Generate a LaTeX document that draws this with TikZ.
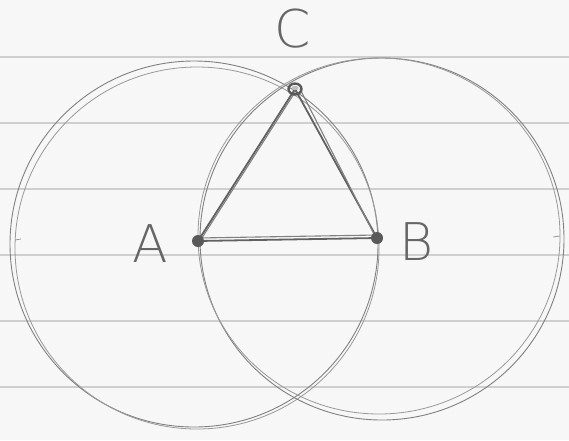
\documentclass[tikz,border=0pt]{standalone}
\usepackage{fontspec}
\newfontfamily\handfont{DejaVu Sans ExtraLight}
\begin{document}
\begin{tikzpicture}[x=1pt,y=-1pt,
  rule/.style={draw=black!19,line width=1.4pt},
  pencil/.style={draw=black!50,line width=0.9pt},
  pencillight/.style={draw=black!40,line width=0.8pt},
  edge/.style={draw=black!62,line width=1.8pt,line cap=round},
  edgelight/.style={draw=black!50,line width=1.1pt,line cap=round},
  pointdot/.style={fill=black!65},
  lab/.style={text=black!60,font=\handfont\fontsize{52}{52}\selectfont,inner sep=0pt}]
\fill[black!3] (0,0) rectangle (569,440);
\useasboundingbox (0,0) rectangle (569,440);
% ruled lines
\foreach \yy in {57,123,189,255,321,387}
  \draw[rule] (0,\yy) -- (569,\yy);
% points
\coordinate (A) at (198,241);
\coordinate (B) at (377,238);
\coordinate (C) at (295,89);
% left circle (two traces)
\draw[pencil] (194,244) ellipse [x radius=184pt, y radius=183pt];
\draw[pencillight] (197,248) ellipse [x radius=182pt, y radius=181pt];
% right circle (two traces)
\draw[pencil] (382,239) ellipse [x radius=182pt, y radius=181pt];
\draw[pencillight] (379,236) ellipse [x radius=181pt, y radius=178pt];
% small ticks at extremes
\draw[pencillight] (15,240) -- (21,239);
\draw[pencillight] (553,237) -- (560,236);
% triangle
\draw[edge] (A) -- (B);
\draw[edgelight] ([yshift=3pt]A) -- ([yshift=3pt]B);
\draw[edge] (A) -- (C);
\draw[edgelight] ([xshift=2pt]A) -- ([xshift=2pt]C);
\draw[edge] (C) -- (B);
\draw[edgelight] ([xshift=5pt]C) -- ([xshift=-1pt]B);
% dots
\fill[pointdot] (A) circle (6pt);
\fill[pointdot] (B) circle (6pt);
\draw[draw=black!65,line width=2.4pt] (C) ellipse [x radius=6.5pt, y radius=5.5pt];
\fill[black!25] ([yshift=1pt]C) ellipse [x radius=3.5pt, y radius=2.2pt];
% labels
\node[lab] (la) at (150,244) {A};
\node[lab] (lb) at (417,242) {B};
\node[lab] (lc) at (293,29) {C};
\end{tikzpicture}
\end{document}
